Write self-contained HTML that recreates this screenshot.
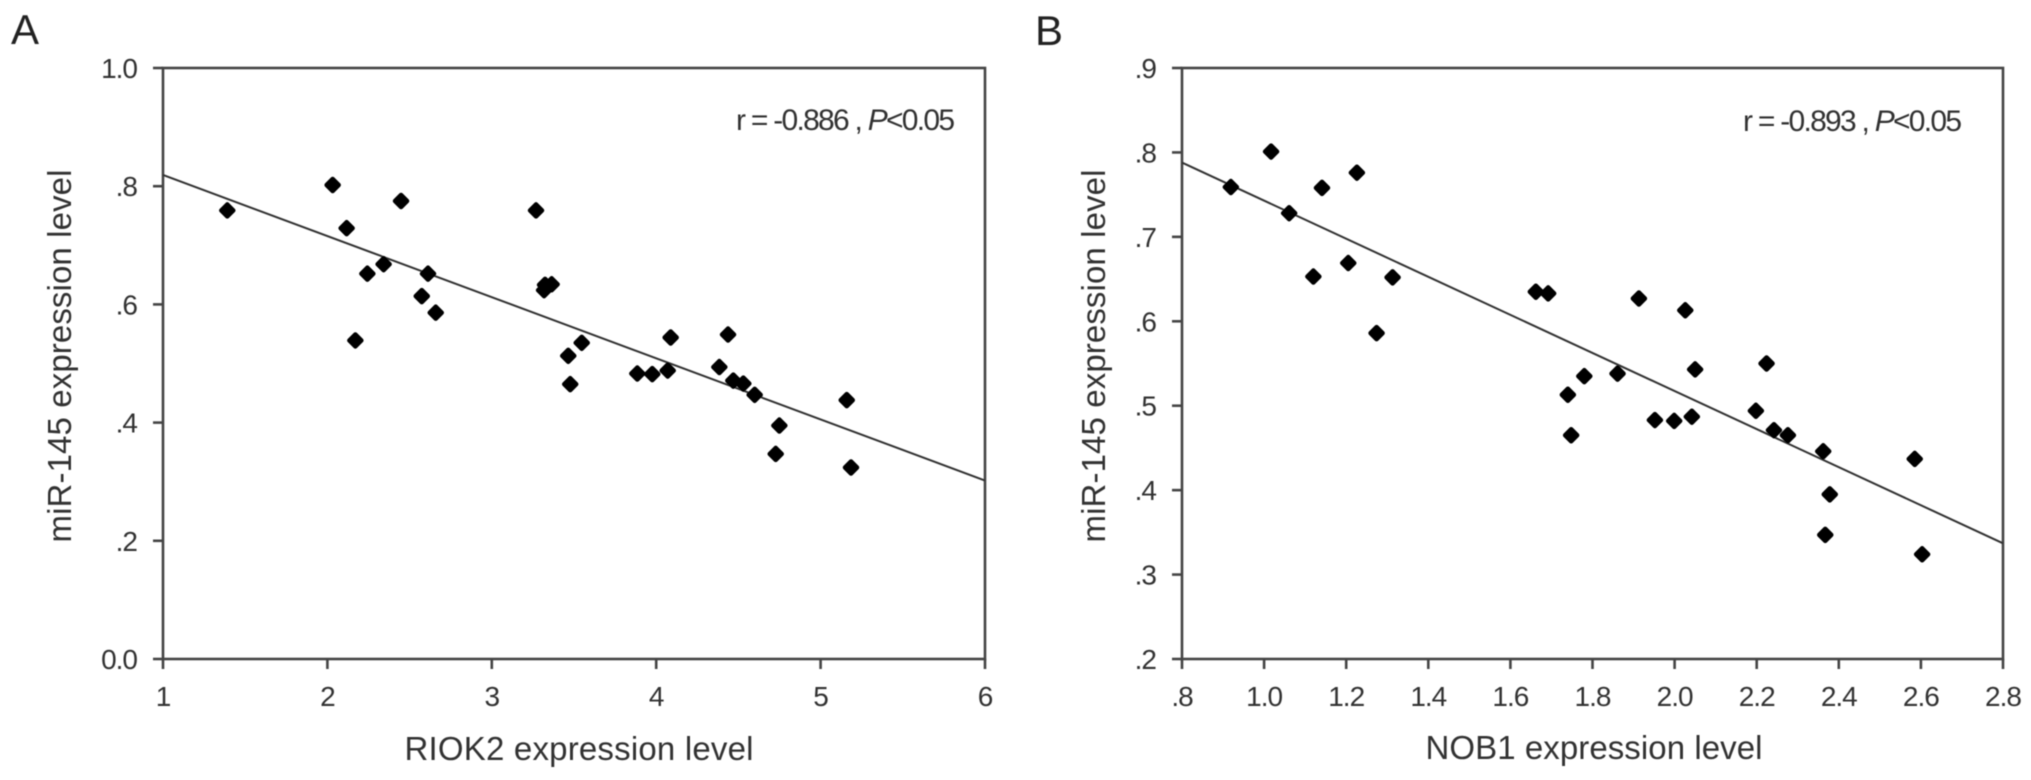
<!DOCTYPE html>
<html lang="en">
<head>
<meta charset="utf-8">
<title>miR-145 correlation scatter plots</title>
<style>
html,body{margin:0;padding:0;background:#fff;width:2031px;height:780px;overflow:hidden}
svg{display:block}
text{font-family:"Liberation Sans",Arial,sans-serif;fill:#333}
.tick{font-size:28px;letter-spacing:-1px}
.title{font-size:33px}
.stat{font-size:30px}
.panel{font-size:42px;fill:#222}
</style>
</head>
<body>
<svg id="figure" width="2031" height="780" viewBox="0 0 2031 780" xmlns="http://www.w3.org/2000/svg">
<defs><filter id="soft" x="-2%" y="-2%" width="104%" height="104%"><feGaussianBlur stdDeviation="0.55"/></filter></defs>
<rect width="2031" height="780" fill="#fff"/>
<g id="content" filter="url(#soft)">
<text class="panel" x="11" y="44">A</text>
<text class="panel" x="1035" y="45">B</text>
<g id="panelA"></g>
<g id="panelB"></g>
<text class="title" x="579" y="760" text-anchor="middle" textLength="349">RIOK2 expression level</text>
<text class="title" transform="translate(71,356) rotate(-90)" text-anchor="middle" textLength="373">miR-145 expression level</text>
<text class="title" x="1594" y="759" text-anchor="middle" textLength="337">NOB1 expression level</text>
<text class="title" transform="translate(1105,356) rotate(-90)" text-anchor="middle" textLength="373">miR-145 expression level</text>
<text class="stat" x="736" y="130" textLength="219">r = -0.886 , <tspan font-style="italic">P</tspan>&lt;0.05</text>
<text class="stat" x="1743" y="131" textLength="219">r = -0.893 , <tspan font-style="italic">P</tspan>&lt;0.05</text>
</g>
</svg>
<script>
const aXValues = [1.391,2.032,2.448,2.117,2.342,2.243,2.612,2.574,2.659,2.170,3.269,3.324,3.364,3.318,3.547,3.465,3.477,3.885,3.976,4.070,4.088,4.437,4.384,4.469,4.530,4.599,4.749,4.727,5.159,5.185];
const aYValues = [.759,.802,.775,.729,.668,.652,.652,.614,.586,.539,.759,.633,.634,.624,.535,.513,.465,.483,.482,.488,.544,.549,.494,.471,.466,.447,.395,.347,.438,.324];
const aLineX = [1,6];
const aLineY = [.819,.302];
const aXTicks = [1,2,3,4,5,6];
const aXTickLabels = ['1','2','3','4','5','6'];
const aYTicks = [0,.2,.4,.6,.8,1];
const aYTickLabels = ['0.0','.2','.4','.6','.8','1.0'];

const bXValues = [1.017,.919,1.141,1.226,1.061,1.205,1.120,1.313,1.274,1.662,1.692,1.780,1.740,1.748,1.861,2.050,2.224,2.198,1.952,1.999,2.042,2.242,2.276,2.362,2.585,2.378,2.367,2.603,1.913,2.026];
const bYValues = [.801,.759,.758,.776,.728,.669,.653,.652,.586,.635,.633,.535,.513,.465,.538,.543,.550,.494,.483,.482,.487,.471,.465,.446,.437,.395,.347,.324,.627,.613];
const bLineX = [.8,2.8];
const bLineY = [.788,.337];
const bXTicks = [.8,1,1.2,1.4,1.6,1.8,2,2.2,2.4,2.6,2.8];
const bXTickLabels = ['.8','1.0','1.2','1.4','1.6','1.8','2.0','2.2','2.4','2.6','2.8'];
const bYTicks = [.2,.3,.4,.5,.6,.7,.8,.9];
const bYTickLabels = ['.2','.3','.4','.5','.6','.7','.8','.9'];

const NS = 'http://www.w3.org/2000/svg';
function make(parent, tag, attrs, txt) {
  const el = document.createElementNS(NS, tag);
  for (const k in attrs) el.setAttribute(k, attrs[k]);
  if (txt !== undefined) el.textContent = txt;
  parent.appendChild(el);
  return el;
}
function scale(d0, d1, r0, r1) {
  return function (v) { return r0 + (v - d0) * (r1 - r0) / (d1 - d0); };
}
function drawPanel(id, box, xs, ys, lineX, lineY, xTicks, xLabels, yTicks, yLabels) {
  const g = document.getElementById(id);
  const x = scale(xTicks[0], xTicks[xTicks.length - 1], box.left, box.right);
  const y = scale(yTicks[0], yTicks[yTicks.length - 1], box.bottom, box.top);
  const axisStyle = { stroke: '#444', 'stroke-width': 2.6, fill: 'none' };

  const frame = make(g, 'rect', Object.assign({ x: box.left, y: box.top, width: box.right - box.left, height: box.bottom - box.top }, axisStyle));
  
  

  xTicks.forEach(function (t, i) {
    const tick = make(g, 'line', Object.assign({ x1: x(t), x2: x(t), y1: box.bottom, y2: box.bottom + 10 }, axisStyle));
    
    
    const label = make(g, 'text', { class: 'tick', x: x(t), y: 706, 'text-anchor': 'middle' }, xLabels[i]);
    
    
  });
  yTicks.forEach(function (t, i) {
    const tick = make(g, 'line', Object.assign({ x1: box.left - 10, x2: box.left, y1: y(t), y2: y(t) }, axisStyle));
    
    
    const label = make(g, 'text', { class: 'tick', x: box.left - 26, y: y(t) + 10, 'text-anchor': 'end' }, yLabels[i]);
    
    
  });

  const fit = make(g, 'line', { x1: x(lineX[0]), y1: y(lineY[0]), x2: x(lineX[1]), y2: y(lineY[1]), stroke: '#333', 'stroke-width': 2 });
  
  

  xs.forEach(function (v, i) {
    const cx = x(v), cy = y(ys[i]), r = 6;
    const pts = [cx - r, cy, cx, cy - r, cx + r, cy, cx, cy + r].join(' ');
    const mark = make(g, 'polygon', { points: pts, fill: '#000', stroke: '#000', 'stroke-width': 4.5, 'stroke-linejoin': 'round' });
    
    
  });
}
drawPanel('panelA', { left: 163, right: 985, top: 68, bottom: 659 }, aXValues, aYValues, aLineX, aLineY, aXTicks, aXTickLabels, aYTicks, aYTickLabels);
drawPanel('panelB', { left: 1182, right: 2003, top: 68, bottom: 659 }, bXValues, bYValues, bLineX, bLineY, bXTicks, bXTickLabels, bYTicks, bYTickLabels);
</script>
</body>
</html>
